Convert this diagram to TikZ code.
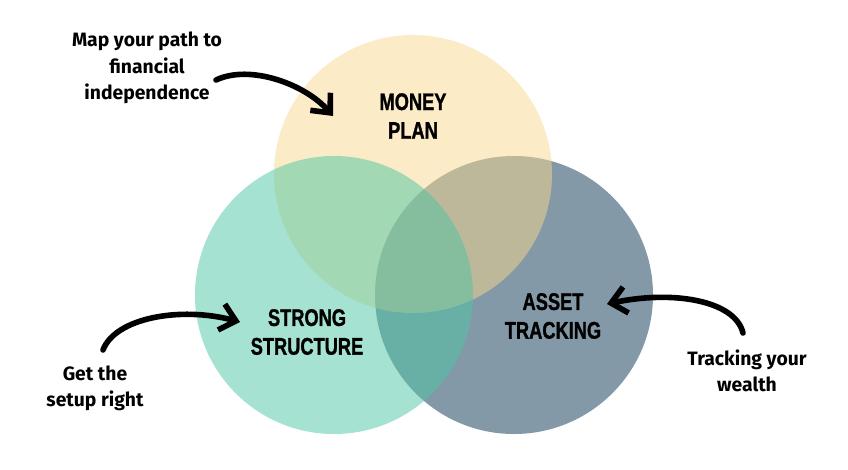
\documentclass[tikz,border=0pt]{standalone}
\usepackage{fontspec}
\newfontfamily\headfont{Liberation Sans}[FakeStretch=0.76, FakeBold=1.2]
\newfontfamily\handfont{Fira Sans}
\usepackage{tikz}
\usetikzlibrary{arrows.meta}

\definecolor{trackblue}{RGB}{132,153,168}
\definecolor{planyellow}{RGB}{247,215,141}
\definecolor{structgreen}{RGB}{77,197,165}

\begin{document}
\begin{tikzpicture}[x=0.03cm, y=-0.03cm,
  venn/.style={circle, minimum size=8.34cm, inner sep=0pt},
  head/.style={font=\headfont\bfseries\fontsize{20.5}{24.5}\selectfont, align=center, inner sep=1pt},
  note/.style={font=\handfont\bfseries\fontsize{16.5}{22.5}\selectfont, align=center, inner sep=1pt},
  brush/.style={draw=black, line width=4.8pt, line cap=round,
    -{Straight Barb[length=4.5mm, width=8mm]}}
]
\useasboundingbox (0,0) rectangle (848,469);

% --- three circles: blue first, then yellow and green see-through on top ---
\node[venn, fill=trackblue] (track) at (514,295) {};
\node[venn, fill=planyellow, fill opacity=0.5] (plan) at (413,174) {};
\node[venn, fill=structgreen, fill opacity=0.5] (struct) at (334,295) {};

% --- circle titles ---
\node[head] (plantxt) at (413,116) {MONEY\\PLAN};
\node[head] (structtxt) at (307,332) {STRONG\\STRUCTURE};
\node[head] (tracktxt) at (553,316) {ASSET\\TRACKING};

% --- notes ---
\node[note] (mapnote) at (147,68) {Map your path to\\financial\\independence};
\node[note] (setupnote) at (95,388) {Get the\\setup right};
\node[note] (wealthnote) at (747,371) {Tracking your\\wealth};

% --- arrow ends ---
\coordinate (maps) at (216,80);
\coordinate (mape) at (333,116);
\coordinate (setups) at (103,350);
\coordinate (setupe) at (240,322);
\coordinate (wealths) at (743,333);
\coordinate (wealthe) at (607,304);

% --- brush arrows ---
\draw[brush] (maps) .. controls (250,64) and (305,84) .. (mape);
\draw[brush] (setups) .. controls (115,318) and (180,306) .. (setupe);
\draw[brush] (wealths) .. controls (735,300) and (672,290) .. (wealthe);

\end{tikzpicture}
\end{document}
